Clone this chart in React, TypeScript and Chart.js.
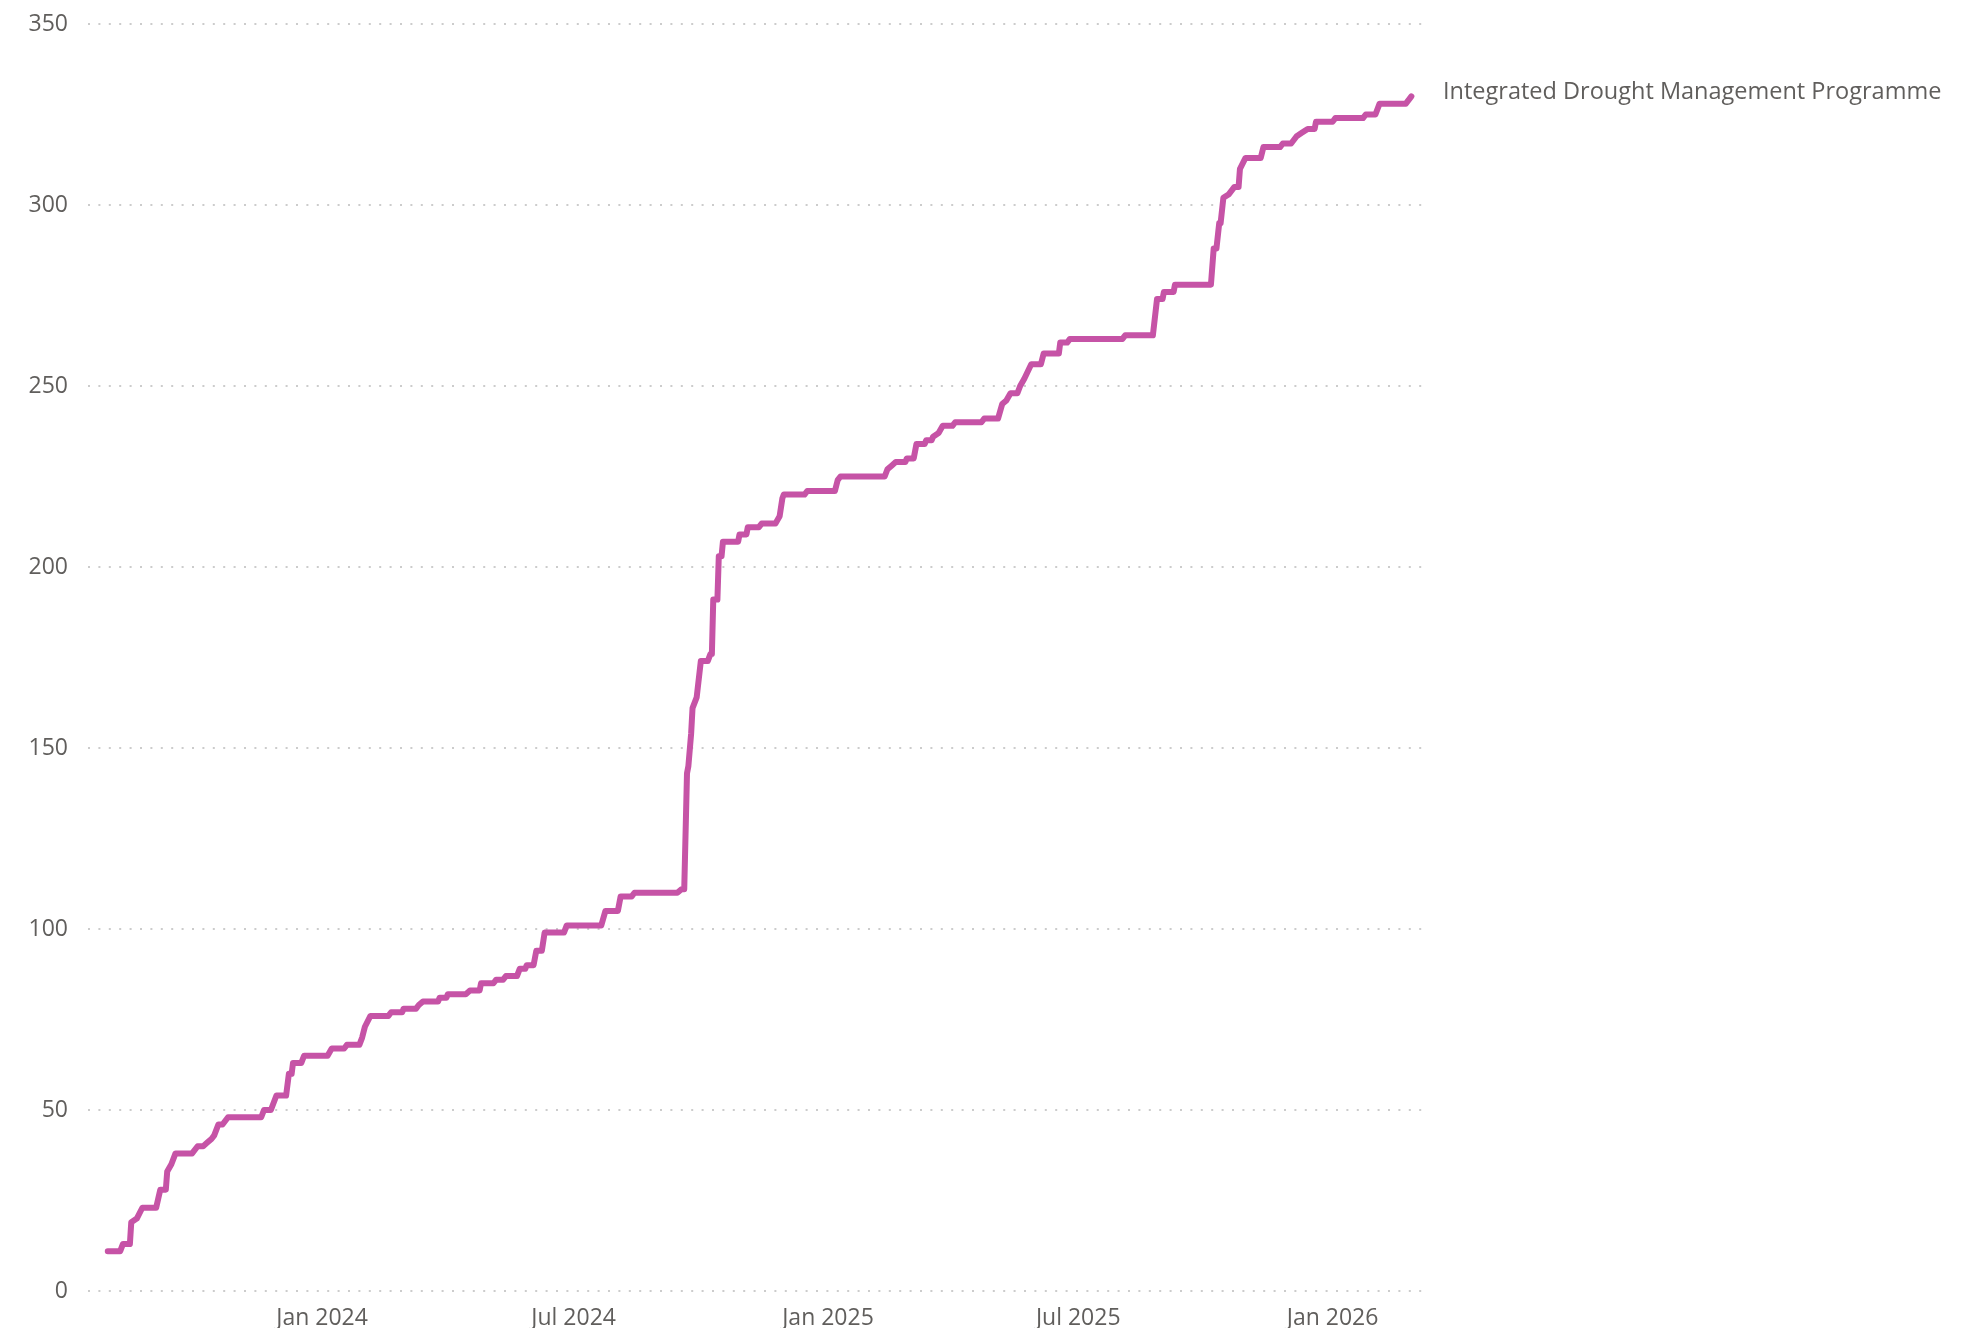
import React, { useEffect, useRef } from "react";
import { Chart, registerables } from "chart.js";

Chart.register(...registerables);

const SERIES_NAME = "Integrated Drought Management Programme";

const dates: string[] = [
  "2023-07-30", "2023-08-08", "2023-08-10", "2023-08-15", "2023-08-16", "2023-08-20", "2023-08-24",
  "2023-09-03", "2023-09-06", "2023-09-10", "2023-09-11", "2023-09-14", "2023-09-17", "2023-09-29",
  "2023-10-03", "2023-10-07", "2023-10-10", "2023-10-13", "2023-10-15", "2023-10-18", "2023-10-21",
  "2023-10-25", "2023-11-18", "2023-11-20", "2023-11-25", "2023-11-29", "2023-12-06", "2023-12-08",
  "2023-12-10", "2023-12-11", "2023-12-17", "2023-12-19",
  "2024-01-05", "2024-01-08", "2024-01-17", "2024-01-19", "2024-01-28", "2024-01-30", "2024-02-01",
  "2024-02-05", "2024-02-18", "2024-02-20", "2024-02-28", "2024-02-29", "2024-03-09", "2024-03-11",
  "2024-03-14", "2024-03-25", "2024-03-26", "2024-03-31", "2024-04-01", "2024-04-14", "2024-04-17",
  "2024-04-24", "2024-04-25", "2024-05-04", "2024-05-06", "2024-05-11", "2024-05-13", "2024-05-21",
  "2024-05-23", "2024-05-27", "2024-05-28", "2024-06-02", "2024-06-04", "2024-06-08", "2024-06-10",
  "2024-06-24", "2024-06-26", "2024-07-21", "2024-07-24", "2024-08-02", "2024-08-04", "2024-08-12",
  "2024-08-14", "2024-09-14", "2024-09-17", "2024-09-19", "2024-09-21", "2024-09-22", "2024-09-24",
  "2024-09-25", "2024-09-28", "2024-10-01", "2024-10-06", "2024-10-08", "2024-10-09", "2024-10-10",
  "2024-10-13", "2024-10-14", "2024-10-16", "2024-10-17", "2024-10-28", "2024-10-29", "2024-11-03",
  "2024-11-04", "2024-11-12", "2024-11-14", "2024-11-24", "2024-11-27", "2024-11-29", "2024-11-30",
  "2024-12-15", "2024-12-17",
  "2025-01-06", "2025-01-08", "2025-01-10", "2025-02-11", "2025-02-13", "2025-02-16", "2025-02-19",
  "2025-02-26", "2025-02-27", "2025-03-04", "2025-03-06", "2025-03-12", "2025-03-13", "2025-03-17",
  "2025-03-18", "2025-03-22", "2025-03-25", "2025-04-01", "2025-04-03", "2025-04-22", "2025-04-24",
  "2025-05-04", "2025-05-07", "2025-05-10", "2025-05-13", "2025-05-18", "2025-05-20", "2025-05-23",
  "2025-05-28", "2025-06-04", "2025-06-06", "2025-06-17", "2025-06-18", "2025-06-23", "2025-06-25",
  "2025-08-02", "2025-08-04", "2025-08-24", "2025-08-27", "2025-08-31", "2025-09-01", "2025-09-08",
  "2025-09-09", "2025-10-05", "2025-10-07", "2025-10-09", "2025-10-11", "2025-10-12", "2025-10-14",
  "2025-10-18", "2025-10-22", "2025-10-25", "2025-10-26", "2025-10-30", "2025-11-10", "2025-11-12",
  "2025-11-24", "2025-11-26", "2025-12-02", "2025-12-06", "2025-12-10", "2025-12-14", "2025-12-19",
  "2025-12-20",
  "2026-01-01", "2026-01-03", "2026-01-23", "2026-01-25", "2026-02-01", "2026-02-04", "2026-02-23",
  "2026-02-27",
];

const values: number[] = [
  11, 11, 13, 13, 19, 20, 23,
  23, 28, 28, 33, 35, 38, 38,
  40, 40, 41, 42, 43, 46, 46,
  48, 48, 50, 50, 54, 54, 60,
  60, 63, 63, 65,
  65, 67, 67, 68, 68, 70, 73,
  76, 76, 77, 77, 78, 78, 79,
  80, 80, 81, 81, 82, 82, 83,
  83, 85, 85, 86, 86, 87, 87,
  89, 89, 90, 90, 94, 94, 99,
  99, 101, 101, 105, 105, 109, 109,
  110, 110, 111, 111, 143, 145, 154,
  161, 164, 174, 174, 176, 176, 191,
  191, 203, 203, 207, 207, 209, 209,
  211, 211, 212, 212, 214, 219, 220,
  220, 221,
  221, 224, 225, 225, 227, 228, 229,
  229, 230, 230, 234, 234, 235, 235,
  236, 237, 239, 239, 240, 240, 241,
  241, 245, 246, 248, 248, 250, 252,
  256, 256, 259, 259, 262, 262, 263,
  263, 264, 264, 274, 274, 276, 276,
  278, 278, 288, 288, 295, 295, 302,
  303, 305, 305, 310, 313, 313, 316,
  316, 317, 317, 319, 320, 321, 321,
  323,
  323, 324, 324, 325, 325, 328, 328,
  330,
];

const xTickDates: string[] = ["2024-01-01", "2024-07-01", "2025-01-01", "2025-07-01", "2026-01-01"];
const xTickLabels: string[] = ["Jan 2024", "Jul 2024", "Jan 2025", "Jul 2025", "Jan 2026"];
const yTickValues: number[] = [0, 50, 100, 150, 200, 250, 300, 350];

const X_RANGE_START = "2023-07-16";
const X_RANGE_END = "2026-03-10";

const DAY_MS = 86400000;
const ORIGIN = Date.UTC(2024, 0, 1);
const toDay = (s: string): number => {
  const [y, m, d] = s.split("-").map(Number);
  return (Date.UTC(y, m - 1, d) - ORIGIN) / DAY_MS;
};

const FONT_FAMILY = "'Segoe UI', 'Open Sans', sans-serif";
const TEXT_COLOR = "#605E5C";
const LINE_COLOR = "#C653A6";

const endLabelPlugin = {
  id: "endLabel",
  afterDatasetsDraw(chart: any) {
    const meta = chart.getDatasetMeta(0);
    const pts = meta.data;
    if (!pts || !pts.length) return;
    const last = pts[pts.length - 1];
    const ctx = chart.ctx;
    ctx.save();
    ctx.font = `23.5px ${FONT_FAMILY}`;
    ctx.fillStyle = TEXT_COLOR;
    ctx.textAlign = "left";
    ctx.textBaseline = "middle";
    ctx.fillText(SERIES_NAME, chart.chartArea.right + 16, last.y - 4);
    ctx.restore();
  },
};

export default function App() {
  const canvasRef = useRef<HTMLCanvasElement | null>(null);

  useEffect(() => {
    const canvas = canvasRef.current;
    if (!canvas) return;
    const xTickDays = xTickDates.map(toDay);
    const chart = new Chart(canvas, {
      type: "line",
      data: {
        datasets: [
          {
            label: SERIES_NAME,
            data: dates.map((d, i) => ({ x: toDay(d), y: values[i] })),
            borderColor: LINE_COLOR,
            backgroundColor: LINE_COLOR,
            borderWidth: 6,
            pointRadius: 0,
            borderCapStyle: "round",
            borderJoinStyle: "round",
            tension: 0,
            fill: false,
          },
        ],
      },
      options: {
        responsive: false,
        animation: false,
        layout: { padding: { top: 24, right: 552, bottom: 0, left: 0 } },
        plugins: {
          legend: { display: false },
          tooltip: { enabled: false },
        },
        scales: {
          x: {
            type: "linear",
            min: toDay(X_RANGE_START) - 0.3,
            max: toDay(X_RANGE_END) + 0.3,
            grid: { display: false },
            border: { display: false },
            ticks: {
              autoSkip: false,
              maxRotation: 0,
              padding: 6,
              color: TEXT_COLOR,
              font: { family: FONT_FAMILY, size: 23 },
              callback: (v: any) => {
                const idx = xTickDays.indexOf(Number(v));
                return idx >= 0 ? xTickLabels[idx] : "";
              },
            },
            afterBuildTicks: (scale: any) => {
              scale.ticks = xTickDays.map((v) => ({ value: v }));
            },
            afterFit: (scale: any) => {
              scale.height = 37;
              scale.paddingLeft = 0;
              scale.paddingRight = 0;
            },
          },
          y: {
            type: "linear",
            min: 0,
            max: 350,
            grid: { color: "#cccccc", lineWidth: 2, drawTicks: false },
            border: { display: false, dash: [2, 8.4] },
            ticks: {
              padding: 20,
              color: TEXT_COLOR,
              font: { family: FONT_FAMILY, size: 23 },
            },
            afterBuildTicks: (scale: any) => {
              scale.ticks = yTickValues.map((v) => ({ value: v }));
            },
            afterFit: (scale: any) => {
              scale.width = 88;
              scale.paddingTop = 0;
              scale.paddingBottom = 0;
            },
          },
        },
      },
      plugins: [endLabelPlugin],
    } as any);
    return () => chart.destroy();
  }, []);

  return (
    <div style={{ position: "fixed", left: 0, top: 0, width: 1979, height: 1328, background: "#ffffff" }}>
      <canvas ref={canvasRef} width={1979} height={1328} style={{ width: 1979, height: 1328, display: "block" }} />
    </div>
  );
}
